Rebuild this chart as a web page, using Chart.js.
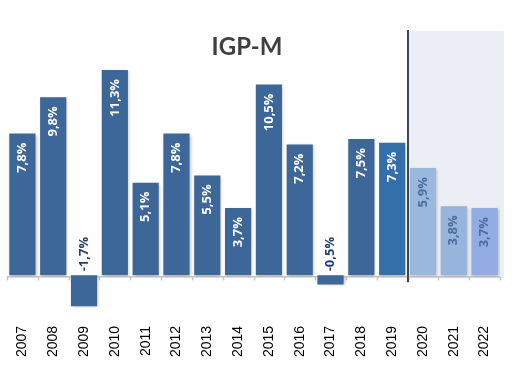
<!DOCTYPE html>
<html>
<head>
<meta charset="utf-8">
<script src="https://cdn.jsdelivr.net/npm/chart.js@4.4.1/dist/chart.umd.min.js"></script>
<style>
  html, body { margin: 0; padding: 0; background: #fff; }
  #wrap { width: 517px; height: 370px; }
</style>
</head>
<body>
<div id="wrap"><canvas id="igpm"></canvas></div>
<script>
// dados
var years = ['2007', '2008', '2009', '2010', '2011', '2012', '2013', '2014', '2015', '2016', '2017', '2018', '2019', '2020', '2021', '2022'];
var igpm = [7.8, 9.8, -1.7, 11.3, 5.1, 7.8, 5.5, 3.7, 10.5, 7.2, -0.5, 7.5, 7.3, 5.9, 3.8, 3.7];
var firstForecast = '2020';
var chartTitle = 'IGP-M';

// cores das barras
var barColors = ['#3d6699', '#3d6699', '#3d6699', '#3d6699', '#3d6699', '#3d6699', '#3d6699', '#3d6699',
                 '#3d6699', '#3d6699', '#3d6699', '#3d6699', '#3370aa', '#9ab8de', '#97b4dc', '#92abe0'];

function fmt(v) {
    return v.toFixed(1).replace('.', ',') + '%';
}

var igpmPlugin = {
    id: 'igpmPlugin',
    beforeDatasetsDraw: function (chart) {
        var ctx = chart.ctx, x = chart.scales.x, y = chart.scales.y, area = chart.chartArea;
        var zero = y.getPixelForValue(0);
        var step = x.getPixelForValue(1) - x.getPixelForValue(0);
        var fi = years.indexOf(firstForecast);
        var bx = x.getPixelForValue(fi) - step / 2;
        ctx.save();
        // area de projecao
        ctx.fillStyle = '#ebeef4';
        ctx.fillRect(bx, area.top + 1, area.right + 4 - bx, zero + 2 - area.top);
        // linha do zero
        ctx.strokeStyle = '#c4c4c4';
        ctx.lineWidth = 1.5;
        ctx.beginPath();
        ctx.moveTo(area.left, zero + 1.5);
        ctx.lineTo(area.right, zero + 1.5);
        for (var i = 0; i <= years.length; i++) {
            var tx = Math.round(x.getPixelForValue(i) - step / 2) + 0.5;
            ctx.moveTo(tx, zero + 1.5);
            ctx.lineTo(tx, zero + 5);
        }
        ctx.stroke();
        ctx.restore();
        // sombra das barras
        ctx.save();
        ctx.shadowColor = 'rgba(0,0,0,0.25)';
        ctx.shadowBlur = 3;
        ctx.shadowOffsetX = 1;
        ctx.shadowOffsetY = 1;
    },
    afterDatasetsDraw: function (chart) {
        var ctx = chart.ctx, x = chart.scales.x, y = chart.scales.y, area = chart.chartArea;
        ctx.restore();
        var zero = y.getPixelForValue(0);
        var step = x.getPixelForValue(1) - x.getPixelForValue(0);
        var fi = years.indexOf(firstForecast);
        var bx = Math.round(x.getPixelForValue(fi) - step / 2);
        ctx.save();
        // divisoria
        ctx.strokeStyle = '#3a4759';
        ctx.lineWidth = 2;
        ctx.beginPath();
        ctx.moveTo(bx, area.top);
        ctx.lineTo(bx, zero + 7);
        ctx.stroke();

        // rotulos
        var meta = chart.getDatasetMeta(0);
        ctx.font = 'bold 13px "Open Sans", sans-serif';
        ctx.textBaseline = 'middle';
        meta.data.forEach(function (bar, i) {
            var v = igpm[i];
            ctx.save();
            if (v >= 0) {
                ctx.translate(bar.x, bar.y + 9);
                ctx.rotate(-Math.PI / 2);
                ctx.textAlign = 'right';
                ctx.fillStyle = i >= fi ? '#4a6d9c' : '#ffffff';
            } else {
                ctx.translate(bar.x, zero - 4);
                ctx.rotate(-Math.PI / 2);
                ctx.textAlign = 'left';
                ctx.fillStyle = '#203f73';
            }
            ctx.fillText(fmt(v), 0, 0);
            ctx.restore();
        });

        // titulo
        ctx.font = 'bold 24px "Lato", sans-serif';
        ctx.fillStyle = '#404040';
        ctx.textAlign = 'center';
        ctx.fillText(chartTitle, 247, 47);
        ctx.restore();
    }
};

var ctx = document.getElementById('igpm');

var chartGraph = new Chart(ctx, {
    type: 'bar',
    data: {
        labels: years,
        datasets: [{
            label: chartTitle,
            data: igpm,
            backgroundColor: barColors,
            borderWidth: 0,
            barPercentage: 0.85,
            categoryPercentage: 1.0
        }]
    },
    options: {
        responsive: true,
        maintainAspectRatio: false,
        animation: false,
        layout: {
            padding: { left: 7, right: 17, top: 30, bottom: 5 }
        },
        plugins: {
            legend: { display: false },
            title: { display: false },
            tooltip: { enabled: false }
        },
        scales: {
            x: {
                grid: { display: false },
                border: { display: false },
                ticks: {
                    color: '#000',
                    font: { family: '"Liberation Sans", Arial, sans-serif', size: 14 },
                    minRotation: 90,
                    maxRotation: 90,
                    padding: 8
                }
            },
            y: {
                display: false,
                min: -1.9,
                max: 13.5
            }
        }
    },
    plugins: [igpmPlugin]
});
</script>
</body>
</html>
